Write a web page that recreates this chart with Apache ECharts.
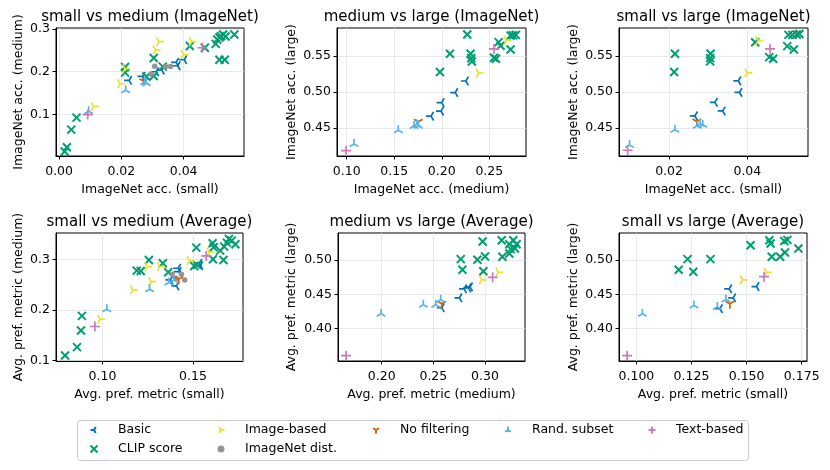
<!DOCTYPE html>
<html><head><meta charset="utf-8">
<script src="https://cdn.jsdelivr.net/npm/echarts@6/dist/echarts.min.js"></script>
<style>html,body{margin:0;padding:0;background:#fff}#c{width:830px;height:470px}</style>
</head><body><div id="c"></div>
<script>
const seriesNames = ['Basic','CLIP score','Image-based','ImageNet dist.','No filtering','Rand. subset','Text-based'];
const panelTitles = ['small vs medium (ImageNet)','medium vs large (ImageNet)','small vs large (ImageNet)','small vs medium (Average)','medium vs large (Average)','small vs large (Average)'];
const xAxisNames = ['ImageNet acc. (small)','ImageNet acc. (medium)','ImageNet acc. (small)','Avg. pref. metric (small)','Avg. pref. metric (medium)','Avg. pref. metric (small)'];
const yAxisNames = ['ImageNet acc. (medium)','ImageNet acc. (large)','ImageNet acc. (large)','Avg. pref. metric (medium)','Avg. pref. metric (large)','Avg. pref. metric (large)'];
const xTicks = [[0,0.02,0.04],[0.10,0.15,0.20,0.25],[0.02,0.04],[0.10,0.15],[0.20,0.25,0.30],[0.100,0.125,0.150,0.175]];
const yTicks = [[0.1,0.2,0.3],[0.45,0.50,0.55],[0.45,0.50,0.55],[0.1,0.2,0.3],[0.40,0.45,0.50],[0.40,0.45,0.50]];
const xDecimals = [2,2,2,2,2,3];
const yDecimals = [1,2,2,1,2,2];
const xRanges = [[-0.001,0.0594],[0.0898,0.2886],[0.0072,0.0555],[0.0743,0.1776],[0.1577,0.3387],[0.0921,0.1774]];
const yRanges = [[0.0035,0.302],[0.4113,0.589],[0.4113,0.589],[0.0995,0.3518],[0.3526,0.5396],[0.3526,0.5396]];

// Panel 1: small vs medium (ImageNet)
const p1Basic = [[0.0225,0.180],[0.0268,0.189],[0.0312,0.200],[0.0330,0.204],[0.0376,0.222],[0.0381,0.214],[0.0402,0.228]];
const p1Clip = [[0.0018,0.014],[0.0025,0.024],[0.0039,0.065],[0.0056,0.093],[0.0212,0.211],[0.0212,0.198],[0.0304,0.232],[0.0304,0.190],[0.0280,0.189],[0.0333,0.212],[0.0420,0.260],[0.0468,0.256],[0.0503,0.265],[0.0508,0.275],[0.0515,0.280],[0.0520,0.283],[0.0527,0.287],[0.0535,0.282],[0.0563,0.287],[0.0515,0.228],[0.0532,0.228]];
const p1Image = [[0.0321,0.270],[0.0310,0.251],[0.0426,0.270],[0.0400,0.240],[0.0212,0.207],[0.0196,0.172],[0.0111,0.119]];
const p1ImNet = [[0.0307,0.213],[0.0296,0.194],[0.0342,0.212],[0.0358,0.212]];
const p1NoFilt = [[0.0272,0.178]];
const p1Rand = [[0.0214,0.157],[0.0275,0.176],[0.0280,0.173],[0.0095,0.108]];
const p1Text = [[0.0092,0.100],[0.0460,0.256]];

// Panel 2: medium vs large (ImageNet)
const p2Basic = [[0.1887,0.4666],[0.1992,0.4735],[0.1999,0.4855],[0.2142,0.4993],[0.2254,0.5154]];
const p2Clip = [[0.1981,0.5279],[0.2086,0.5532],[0.2268,0.5800],[0.2303,0.5532],[0.2310,0.5470],[0.2317,0.5426],[0.2549,0.5477],[0.2570,0.5463],[0.2598,0.5694],[0.2619,0.5643],[0.2724,0.5592],[0.2724,0.5786],[0.2750,0.5790],[0.2780,0.5795]];
const p2Image = [[0.2388,0.5265],[0.2682,0.5717]];
const p2ImNet = [];
const p2NoFilt = [[0.1753,0.4588]];
const p2Rand = [[0.1077,0.4280],[0.1543,0.4472],[0.1708,0.4528],[0.1736,0.4555],[0.1753,0.4532]];
const p2Text = [[0.0993,0.4187],[0.2549,0.5600]];

// Panel 3: small vs large (ImageNet)
const p3Basic = [[0.0266,0.4670],[0.0317,0.4858],[0.0337,0.4739],[0.0380,0.4995],[0.0377,0.5156]];
const p3Clip = [[0.0215,0.5532],[0.0213,0.5280],[0.0306,0.5532],[0.0305,0.5472],[0.0305,0.5427],[0.0420,0.5693],[0.0456,0.5486],[0.0466,0.5463],[0.0502,0.5638],[0.0505,0.5794],[0.0515,0.5794],[0.0526,0.5800],[0.0533,0.5807],[0.0519,0.5592]];
const p3Image = [[0.0400,0.5266],[0.0428,0.5716]];
const p3ImNet = [];
const p3NoFilt = [[0.0271,0.4592]];
const p3Rand = [[0.0099,0.4266],[0.0215,0.4477],[0.0272,0.4532],[0.0279,0.4560],[0.0286,0.4546]];
const p3Text = [[0.0094,0.4193],[0.0458,0.5601]];

// Panel 4: small vs medium (Average)
const p4Basic = [[0.1375,0.2593],[0.1418,0.2823],[0.1421,0.2757],[0.1408,0.2475],[0.1535,0.2921],[0.1540,0.2875]];
const p4Clip = [[0.0793,0.1105],[0.0859,0.1269],[0.0881,0.1597],[0.0886,0.1885],[0.1189,0.2777],[0.1211,0.2770],[0.1256,0.2987],[0.1333,0.2921],[0.1363,0.2744],[0.1518,0.3230],[0.1507,0.2869],[0.1522,0.2889],[0.1608,0.3315],[0.1614,0.3236],[0.1610,0.3000],[0.1650,0.3170],[0.1668,0.2987],[0.1672,0.3250],[0.1687,0.3328],[0.1698,0.3400],[0.1714,0.3367],[0.1734,0.3295]];
const p4Image = [[0.1168,0.2397],[0.1269,0.2561],[0.1247,0.2856],[0.1317,0.2856],[0.1480,0.2974],[0.0987,0.1820],[0.1590,0.3138]];
const p4ImNet = [[0.1385,0.2705],[0.1436,0.2705],[0.1454,0.2593],[0.1407,0.2626]];
const p4NoFilt = [[0.1421,0.2607]];
const p4Rand = [[0.1024,0.2016],[0.1260,0.2410],[0.1366,0.2541],[0.1394,0.2593]];
const p4Text = [[0.0958,0.1675],[0.1573,0.3066]];

// Panel 5: medium vs large (Average)
const p5Basic = [[0.2581,0.4304],[0.2752,0.4449],[0.2797,0.4580],[0.2839,0.4594],[0.2855,0.4610]];
const p5Clip = [[0.2765,0.5014],[0.2781,0.4860],[0.2926,0.5005],[0.3000,0.5053],[0.2984,0.4836],[0.2977,0.5271],[0.3161,0.5290],[0.3168,0.5048],[0.3235,0.5097],[0.3235,0.5232],[0.3274,0.5290],[0.3306,0.5232],[0.3290,0.5169],[0.3248,0.5160]];
const p5Image = [[0.2968,0.4710],[0.3129,0.4821]];
const p5ImNet = [];
const p5NoFilt = [[0.2581,0.4362]];
const p5Rand = [[0.1994,0.4217],[0.2403,0.4348],[0.2523,0.4348],[0.2571,0.4420]];
const p5Text = [[0.1655,0.3604],[0.3074,0.4749]];

// Panel 6: small vs large (Average)
const p6Basic = [[0.1379,0.4290],[0.1421,0.4580],[0.1439,0.4449],[0.1545,0.4614]];
const p6Clip = [[0.1192,0.4860],[0.1232,0.5014],[0.1258,0.4831],[0.1336,0.5014],[0.1518,0.5217],[0.1603,0.5290],[0.1609,0.5242],[0.1614,0.5048],[0.1652,0.5048],[0.1671,0.5280],[0.1685,0.5295],[0.1674,0.5111],[0.1735,0.5169]];
const p6Image = [[0.1482,0.4710],[0.1591,0.4821]];
const p6ImNet = [];
const p6NoFilt = [[0.1424,0.4362]];
const p6Rand = [[0.1027,0.4217],[0.1261,0.4338],[0.1367,0.4314],[0.1406,0.4425]];
const p6Text = [[0.0958,0.3604],[0.1579,0.4758]];

const panelData = [
  [p1Basic,p1Clip,p1Image,p1ImNet,p1NoFilt,p1Rand,p1Text],
  [p2Basic,p2Clip,p2Image,p2ImNet,p2NoFilt,p2Rand,p2Text],
  [p3Basic,p3Clip,p3Image,p3ImNet,p3NoFilt,p3Rand,p3Text],
  [p4Basic,p4Clip,p4Image,p4ImNet,p4NoFilt,p4Rand,p4Text],
  [p5Basic,p5Clip,p5Image,p5ImNet,p5NoFilt,p5Rand,p5Text],
  [p6Basic,p6Clip,p6Image,p6ImNet,p6NoFilt,p6Rand,p6Text]
];

const colors = ['#0173B2','#029E73','#ECE133','#949494','#D55E00','#56B4E9','#CC78BC'];
const B = 'M-1 -1M1 1';
const symbols = [
  'path://M0 0L-1 0M0 0L0.5 -0.866M0 0L0.5 0.866' + B,
  'path://M-1 -1L1 1M-1 1L1 -1',
  'path://M0 0L1 0M0 0L-0.5 -0.866M0 0L-0.5 0.866' + B,
  'circle',
  'path://M0 0L0 1M0 0L-0.866 -0.5M0 0L0.866 -0.5' + B,
  'path://M0 0L0 -1M0 0L-0.866 0.5M0 0L0.866 0.5' + B,
  'path://M-1 0L1 0M0 -1L0 1'
];
const symSizes = [10, 8, 10, 5.5, 10, 10, 10];
const lineWidths = [1.7, 2, 1.7, 0, 1.7, 1.7, 1.7];

const grids = [
  {left:56, top:28, width:188, height:128},
  {left:337, top:28, width:189, height:128},
  {left:619, top:28, width:189, height:128},
  {left:56, top:233, width:187, height:128},
  {left:338, top:233, width:187, height:128},
  {left:619, top:233, width:188, height:128}
];
const yNameGaps = [31, 39, 39, 31, 40, 39];
const FONT = 'DejaVu Sans';

const option = {
  animation: false,
  backgroundColor: '#fff',
  textStyle: {fontFamily: FONT},
  title: [], grid: [], xAxis: [], yAxis: [], series: [], legend: [],
  graphic: [{type:'rect', shape:{x:77.5, y:420.5, width:671, height:40, r:3}, style:{fill:'#fff', stroke:'#cccccc', lineWidth:1}, z:-1}]
};

grids.forEach((g, i) => {
  option.grid.push(Object.assign({show:true, borderColor:'#000', borderWidth:1, backgroundColor:'transparent', containLabel:false}, g));
  option.title.push({
    text: panelTitles[i], left: g.left + g.width/2, top: g.top - 18, textAlign: 'center', padding: 0,
    textStyle: {fontFamily: FONT, fontSize: 15, fontWeight: 'normal', color: '#000'}
  });
  const xd = xDecimals[i], yd = yDecimals[i];
  option.xAxis.push({
    type:'value', gridIndex:i, min:xRanges[i][0], max:xRanges[i][1],
    name: xAxisNames[i], nameLocation:'middle', nameGap: 27,
    nameTextStyle:{fontFamily:FONT, fontSize:12.5, color:'#000'},
    axisLine:{show:true, onZero:false, lineStyle:{color:'#000', width:1}},
    axisTick:{show:true, length:3.5, customValues:xTicks[i], lineStyle:{color:'#000', width:1}},
    axisLabel:{customValues:xTicks[i], formatter: v => Number(v).toFixed(xd), fontFamily:FONT, fontSize:12.5, color:'#000', margin:9},
    splitLine:{show:true, lineStyle:{color:'#e3e3e3', width:0.8}}
  });
  option.yAxis.push({
    type:'value', gridIndex:i, min:yRanges[i][0], max:yRanges[i][1],
    name: yAxisNames[i], nameLocation:'middle', nameGap: yNameGaps[i], nameRotate: 90,
    nameTextStyle:{fontFamily:FONT, fontSize:12.5, color:'#000'},
    axisLine:{show:true, onZero:false, lineStyle:{color:'#000', width:1}},
    axisTick:{show:true, length:3.5, customValues:yTicks[i], lineStyle:{color:'#000', width:1}},
    axisLabel:{customValues:yTicks[i], formatter: v => Number(v).toFixed(yd), fontFamily:FONT, fontSize:12.5, color:'#000', margin:6},
    splitLine:{show:true, lineStyle:{color:'#e3e3e3', width:0.8}}
  });
  panelData[i].forEach((d, j) => {
    const isCircle = symbols[j] === 'circle';
    option.series.push({
      type:'scatter', name: seriesNames[j], xAxisIndex:i, yAxisIndex:i, data: d,
      symbol: symbols[j], symbolSize: symSizes[j],
      itemStyle: isCircle ? {color: colors[j], opacity: 1} : {color:'transparent', borderColor: colors[j], borderWidth: lineWidths[j], opacity: 1},
      emphasis: {disabled: true}, z: 2 + j
    });
  });
});

// legend columns: marker centre x
const legendCols = [
  {names:['Basic','CLIP score'], cx:93},
  {names:['Image-based','ImageNet dist.'], cx:220},
  {names:['No filtering'], cx:375},
  {names:['Rand. subset'], cx:507},
  {names:['Text-based'], cx:651}
];
legendCols.forEach(c => {
  option.legend.push({
    data: c.names, left: c.cx - 3.5, top: 423, orient: 'vertical', padding: 0, itemGap: 5,
    itemWidth: 7, itemHeight: 7, selectedMode: false,
    textStyle: {fontFamily: FONT, fontSize: 12.5, color: '#000', lineHeight: 14, padding: [0,0,0,15.5]}
  });
});

const chart = echarts.init(document.getElementById('c'), null, {renderer: 'canvas'});
chart.setOption(option);
</script>
</body></html>
